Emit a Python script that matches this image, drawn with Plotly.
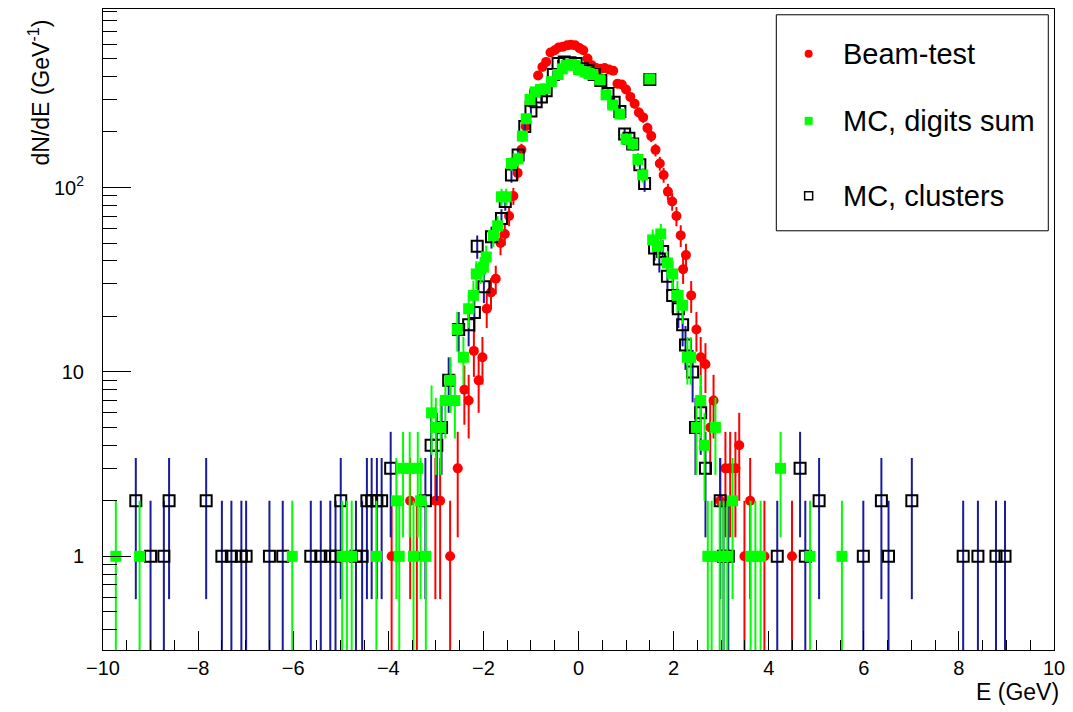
import numpy as np
import plotly.graph_objects as go

# Energy residual spectra, counts per bin (Poisson errors = sqrt(N))
beam_e = [-3.93, -3.54, -3.40, -3.01, -2.91, -2.70, -2.54, -2.40, -2.31, -2.20,
          -2.10, -2.02, -1.93, -1.84, -1.74, -1.64, -1.55, -1.46, -1.37, -1.28,
          -1.20, -1.11, -1.03, -0.94, -0.85, -0.76, -0.68, -0.59, -0.50, -0.42,
          -0.33, -0.24, -0.16, -0.07, 0.02, 0.10, 0.19, 0.28, 0.37, 0.46,
          0.55, 0.64, 0.73, 0.82, 0.91, 1.00, 1.09, 1.18, 1.27, 1.36,
          1.45, 1.53, 1.62, 1.71, 1.79, 1.88, 1.97, 2.06, 2.15, 2.20,
          2.26, 2.37, 2.48, 2.57, 2.67, 2.77, 2.84, 2.98, 3.09, 3.19,
          3.30, 3.38, 3.49, 3.61, 3.91, 4.49]
beam_n = [1, 2, 1, 2, 2, 1, 3, 8, 7, 13,
          9, 12, 22, 27, 32, 50, 56, 70, 90, 120,
          160, 214, 290, 330, 405, 450, 480, 540, 555, 575,
          580, 590, 595, 590, 570, 555, 500, 460, 445, 440,
          445, 436, 430, 365, 362, 340, 310, 285, 255, 240,
          210, 190, 160, 135, 117, 95, 84, 70, 55, 36,
          43, 26, 17, 12, 11, 5, 7, 2, 3, 3,
          3, 4, 1, 2, 1, 1]

clus_e = [-9.31, -9.00, -8.72, -8.61, -7.83, -7.50, -7.30, -7.09, -6.99, -6.50,
          -6.22, -5.63, -5.42, -5.22, -5.11, -5.00, -4.68, -4.55, -4.45, -4.35,
          -4.24, -4.14, -3.95, -3.22, -3.10, -2.98, -2.88, -2.73, -2.52, -2.31,
          -2.19, -2.13, -1.99, -1.83, -1.62, -1.54, -1.41, -1.27, -1.13, -1.00,
          -0.89, -0.78, -0.68, -0.53, -0.43, -0.30, -0.18, -0.05, 0.08, 0.20,
          0.33, 0.47, 0.62, 0.75, 0.87, 0.97, 1.06, 1.14, 1.29, 1.39,
          1.50, 1.60, 1.70, 1.77, 1.87, 1.98, 2.10, 2.19, 2.25, 2.40,
          2.46, 2.57, 2.67, 2.98, 3.05, 3.15, 4.18, 4.66, 4.77, 5.06,
          5.99, 6.37, 6.52, 7.01, 8.09, 8.40, 8.78, 8.97]
clus_n = [2, 1, 1, 2, 2, 1, 1, 1, 1, 1,
          1, 1, 1, 1, 1, 2, 1, 1, 2, 2,
          2, 2, 3, 2, 4, 4, 5, 9, 17, 18,
          21, 48, 29, 54, 68, 84, 117, 150, 214, 260,
          292, 310, 335, 410, 470, 480, 475, 470, 440, 430,
          410, 380, 323, 290, 258, 195, 185, 172, 133, 105,
          385, 47, 41, 45, 33, 26, 22, 18, 14, 10,
          5, 6, 3, 2, 1, 1, 1, 3, 1, 2,
          1, 2, 1, 2, 1, 1, 1, 1]

dig_e = [-9.73, -9.23, -6.02, -4.97, -4.87, -4.77, -4.25, -3.83, -3.77, -3.69,
         -3.55, -3.47, -3.38, -3.32, -3.21, -3.09, -3.00, -2.90, -2.80, -2.69,
         -2.60, -2.55, -2.42, -2.31, -2.21, -2.15, -2.06, -2.00, -1.94, -1.79,
         -1.70, -1.62, -1.52, -1.41, -1.27, -1.18, -1.10, -1.02, -0.91, -0.80,
         -0.70, -0.57, -0.43, -0.34, -0.26, -0.16, -0.07, 0.00, 0.14, 0.22,
         0.30, 0.45, 0.58, 0.72, 0.87, 1.00, 1.14, 1.25, 1.35, 1.50,
         1.56, 1.67, 1.73, 1.87, 1.98, 2.08, 2.19, 2.29, 2.36, 2.48,
         2.57, 2.65, 2.72, 2.80, 2.88, 2.97, 3.05, 3.13, 3.24, 3.62,
         3.72, 3.83, 4.25, 4.87, 5.54]
dig_n = [1, 1, 1, 1, 1, 1, 1, 2, 1, 3,
         3, 1, 3, 2, 1, 6, 5, 5, 7, 9,
         7, 17, 12, 22, 26, 34, 36, 37, 42, 55,
         62, 89, 89, 135, 143, 190, 236, 300, 330, 340,
         343, 375, 410, 440, 460, 465, 460, 436, 424, 415,
         410, 384, 318, 280, 250, 183, 172, 142, 117, 388,
         52, 48, 56, 39, 34, 26, 23, 12, 12, 5,
         7, 4, 1, 1, 5, 1, 1, 1, 2, 1,
         1, 1, 3, 1, 1]

labels = ["Beam-test", "MC, digits sum", "MC, clusters"]

RED = "#ff0000"
GREEN = "#00ff00"
BLUE = "#1a1a9c"
FONT = "Liberation Sans, Arial, Helvetica, sans-serif"


def error_segments(e, n):
    """Vertical sqrt(N) error bars as one broken polyline."""
    xs, ys = [], []
    for xi, ni in zip(e, n):
        s = np.sqrt(ni)
        lo = ni - s if ni - s > 0 else 1e-3
        xs += [xi, xi, None]
        ys += [lo, ni + s, None]
    return xs, ys


fig = go.Figure()


def add_series(e, n, err_color, marker):
    xs, ys = error_segments(e, n)
    fig.add_trace(go.Scatter(x=xs, y=ys, mode="lines",
                             line=dict(color=err_color, width=2),
                             hoverinfo="skip", showlegend=False))
    fig.add_trace(go.Scatter(x=e, y=n, mode="markers", marker=marker,
                             showlegend=False))


red_marker = dict(symbol="circle", size=10, color=RED, line=dict(width=0))
green_marker = dict(symbol="square", size=11, color=GREEN, line=dict(width=0))
black_marker = dict(symbol="square-open", size=11, color="black",
                    line=dict(width=2, color="black"))

add_series(beam_e, beam_n, RED, red_marker)
add_series(clus_e, clus_n, BLUE, black_marker)
add_series(dig_e, dig_n, GREEN, green_marker)

# Legend box (paper coordinates of the plotting frame)
leg_x0, leg_x1, leg_y0, leg_y1 = 0.708, 0.994, 0.654, 0.991
leg_sym_x = 0.742
leg_txt_x = 0.776
leg_rows = [0.930, 0.8255, 0.7087]
leg_markers = [dict(symbol="circle", size=8, color=RED),
               dict(symbol="square", size=8, color=GREEN),
               dict(symbol="square-open", size=8, color="black",
                    line=dict(width=1.5, color="black"))]

fig.add_shape(type="rect", xref="paper", yref="paper",
              x0=leg_x0, x1=leg_x1, y0=leg_y0, y1=leg_y1,
              line=dict(color="black", width=1), fillcolor="white",
              layer="below")
for yy, lab, mk in zip(leg_rows, labels, leg_markers):
    fig.add_trace(go.Scatter(x=[leg_sym_x], y=[yy], mode="markers",
                             marker=mk, xaxis="x2", yaxis="y2",
                             showlegend=False, hoverinfo="skip"))
    fig.add_annotation(x=leg_txt_x, y=yy, xref="paper", yref="paper",
                       text=lab, showarrow=False, xanchor="left",
                       yanchor="middle",
                       font=dict(family=FONT, size=29, color="black"))

# Axis titles
fig.add_annotation(x=1.007, y=-0.066, xref="paper", yref="paper",
                   text="E (GeV)", showarrow=False, xanchor="right",
                   yanchor="middle", font=dict(family=FONT, size=23, color="black"))
fig.add_annotation(x=-0.067, y=0.987, xref="paper", yref="paper",
                   text="dN/dE (GeV<sup>-1</sup>)", showarrow=False,
                   textangle=-90, xanchor="center", yanchor="top",
                   font=dict(family=FONT, size=23, color="black"))

y_minor = [m * 10.0 ** d for d in (-1, 0, 1, 2) for m in range(2, 10)]

fig.update_layout(
    width=1073, height=712,
    margin=dict(l=103, r=15, t=8, b=62),
    paper_bgcolor="white", plot_bgcolor="white",
    font=dict(family=FONT, size=20, color="black"),
    xaxis=dict(range=[-10, 10], tickmode="array",
               tickvals=list(range(-10, 11, 2)),
               ticks="inside", ticklen=19, tickwidth=1, tickcolor="black",
               showline=True, linecolor="black", linewidth=1, mirror=True,
               showgrid=False, zeroline=False,
               tickfont=dict(family=FONT, size=20, color="black"),
               minor=dict(ticks="inside", ticklen=10, dtick=0.5,
                          tickcolor="black", showgrid=False)),
    yaxis=dict(type="log", range=[-0.508, 2.968], tickmode="array",
               tickvals=[1, 10, 100], ticktext=["1", "10", "10<sup>2</sup>"],
               ticks="inside", ticklen=28, tickwidth=1, tickcolor="black",
               showline=True, linecolor="black", linewidth=1, mirror=True,
               showgrid=False, zeroline=False, ticklabelstandoff=14,
               tickfont=dict(family=FONT, size=20, color="black"),
               minor=dict(ticks="inside", ticklen=14, tickvals=y_minor,
                          tickcolor="black", showgrid=False)),
    xaxis2=dict(range=[0, 1], overlaying="x", visible=False),
    yaxis2=dict(range=[0, 1], overlaying="y", visible=False),
    showlegend=False,
)

fig.write_html("out.html")
